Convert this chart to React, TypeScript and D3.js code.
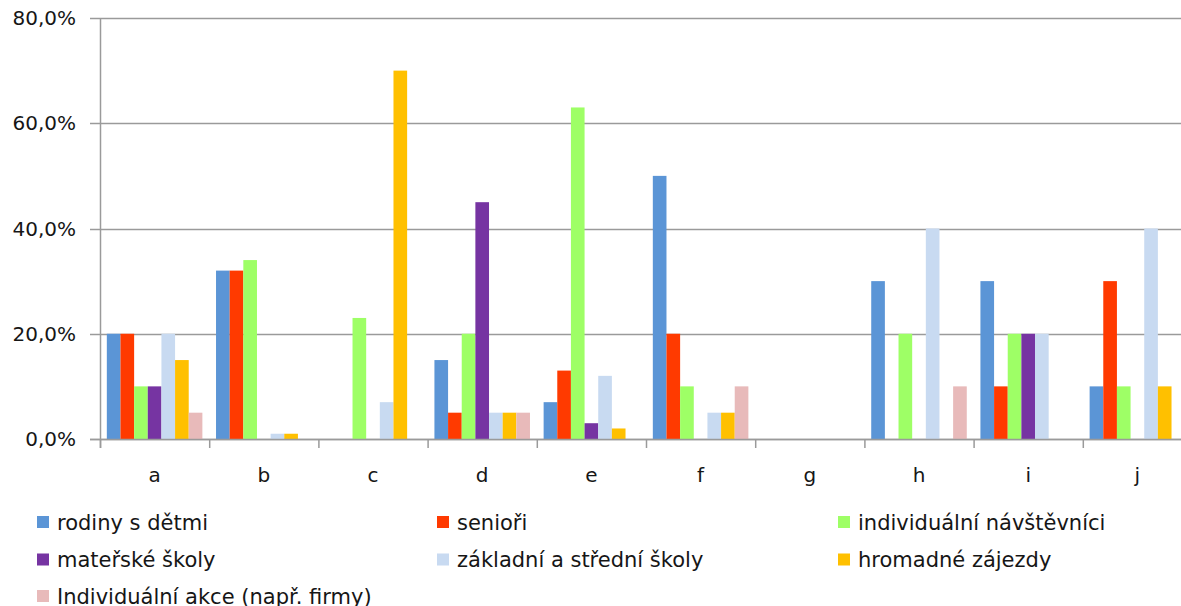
import React, { useRef, useEffect } from "react";
import * as d3 from "d3";

const categories = ["a", "b", "c", "d", "e", "f", "g", "h", "i", "j"];

const seriesNames = [
  "rodiny s dětmi",
  "senioři",
  "individuální návštěvníci",
  "mateřské školy",
  "základní a střední školy",
  "hromadné zájezdy",
  "Individuální akce (např. firmy)",
];

const seriesColors = [
  "#5B95D6",
  "#FF3A00",
  "#9EFF66",
  "#7634A2",
  "#C8DAF1",
  "#FFC000",
  "#E8BABA",
];

// values per series, one per category (a..j), in percent
const rodiny = [20, 32, 0, 15, 7, 50, 0, 30, 30, 10];
const seniori = [20, 32, 0, 5, 13, 20, 0, 0, 10, 30];
const individualni = [10, 34, 23, 20, 63, 10, 0, 20, 20, 10];
const materske = [10, 0, 0, 45, 3, 0, 0, 0, 20, 0];
const zakladni = [20, 1, 7, 5, 12, 5, 0, 40, 20, 40];
const hromadne = [15, 1, 70, 5, 2, 5, 0, 0, 0, 10];
const akce = [5, 0, 0, 5, 0, 10, 0, 10, 0, 0];

const seriesValues = [rodiny, seniori, individualni, materske, zakladni, hromadne, akce];

const yTicks = [0, 20, 40, 60, 80];

const App: React.FC = () => {
  const ref = useRef<SVGSVGElement | null>(null);

  useEffect(() => {
    const svg = d3.select(ref.current);
    svg.selectAll("*").remove();

    const width = 1181;
    const height = 606;
    const left = 100;
    const right = 1192; // plot runs past the picture edge
    const top = 18;
    const bottom = 439;
    const font = "'DejaVu Sans', Verdana, sans-serif";
    const textColor = "#161616";

    svg.attr("width", width).attr("height", height);

    const x = d3.scaleBand<string>().domain(categories).range([left, right]);
    const bw = x.bandwidth();
    const x1 = d3
      .scaleBand<number>()
      .domain(d3.range(seriesNames.length))
      .range([bw / 16, bw - bw / 16]);
    const y = d3.scaleLinear().domain([0, 80]).range([bottom, top]);

    // gridlines
    svg
      .append("g")
      .selectAll("line")
      .data(yTicks)
      .enter()
      .append("line")
      .attr("x1", left - 10)
      .attr("x2", right)
      .attr("y1", (d) => Math.round(y(d)) + 0.5)
      .attr("y2", (d) => Math.round(y(d)) + 0.5)
      .style("stroke", "#9a9a9a")
      .style("stroke-width", 1.5);

    // y labels
    svg
      .append("g")
      .selectAll("text")
      .data(yTicks)
      .enter()
      .append("text")
      .attr("x", 76)
      .attr("y", (d) => y(d))
      .attr("dy", "0.36em")
      .style("text-anchor", "end")
      .style("font-family", font)
      .style("font-size", "20px")
      .style("fill", textColor)
      .text((d) => d.toFixed(1).replace(".", ",") + "%");

    // bars
    const groups = svg
      .append("g")
      .selectAll("g")
      .data(categories)
      .enter()
      .append("g")
      .attr("transform", (d) => `translate(${x(d)},0)`);

    groups
      .selectAll("rect")
      .data((_, ci) => seriesValues.map((vals, si) => ({ si, v: vals[ci] })))
      .enter()
      .append("rect")
      .attr("x", (d) => x1(d.si) as number)
      .attr("width", x1.bandwidth())
      .attr("y", (d) => y(d.v))
      .attr("height", (d) => bottom - y(d.v))
      .style("fill", (d) => seriesColors[d.si]);

    // axes lines
    svg
      .append("line")
      .attr("x1", left + 0.5)
      .attr("x2", left + 0.5)
      .attr("y1", top)
      .attr("y2", bottom + 9)
      .style("stroke", "#9a9a9a")
      .style("stroke-width", 1.5);

    svg
      .append("line")
      .attr("x1", left - 10)
      .attr("x2", right)
      .attr("y1", bottom + 0.5)
      .attr("y2", bottom + 0.5)
      .style("stroke", "#9a9a9a")
      .style("stroke-width", 1.5);

    // category ticks
    svg
      .append("g")
      .selectAll("line")
      .data(categories)
      .enter()
      .append("line")
      .attr("x1", (d) => (x(d) as number) + 0.5)
      .attr("x2", (d) => (x(d) as number) + 0.5)
      .attr("y1", bottom)
      .attr("y2", bottom + 9)
      .style("stroke", "#9a9a9a")
      .style("stroke-width", 1.5);

    // category labels
    svg
      .append("g")
      .selectAll("text")
      .data(categories)
      .enter()
      .append("text")
      .attr("x", (d) => (x(d) as number) + bw / 2)
      .attr("y", 475)
      .attr("dy", "0.36em")
      .style("text-anchor", "middle")
      .style("font-family", font)
      .style("font-size", "20px")
      .style("fill", textColor)
      .text((d) => d);

    // legend
    const colX = [37, 437, 838];
    const rowY = [522, 559.5, 596];
    const legend = svg
      .append("g")
      .selectAll("g")
      .data(seriesNames)
      .enter()
      .append("g")
      .attr("transform", (_, i) => `translate(${colX[i % 3]},${rowY[Math.floor(i / 3)]})`);

    legend
      .append("rect")
      .attr("x", 0)
      .attr("y", -6)
      .attr("width", 12)
      .attr("height", 12)
      .style("fill", (_, i) => seriesColors[i]);

    legend
      .append("text")
      .attr("x", 20)
      .attr("y", 0)
      .attr("dy", "0.36em")
      .style("font-family", font)
      .style("font-size", "21px")
      .style("fill", textColor)
      .text((d) => d);
  }, []);

  return (
    <svg
      ref={ref}
      style={{ position: "absolute", left: 0, top: 0, background: "#fff" }}
    />
  );
};

export default App;
